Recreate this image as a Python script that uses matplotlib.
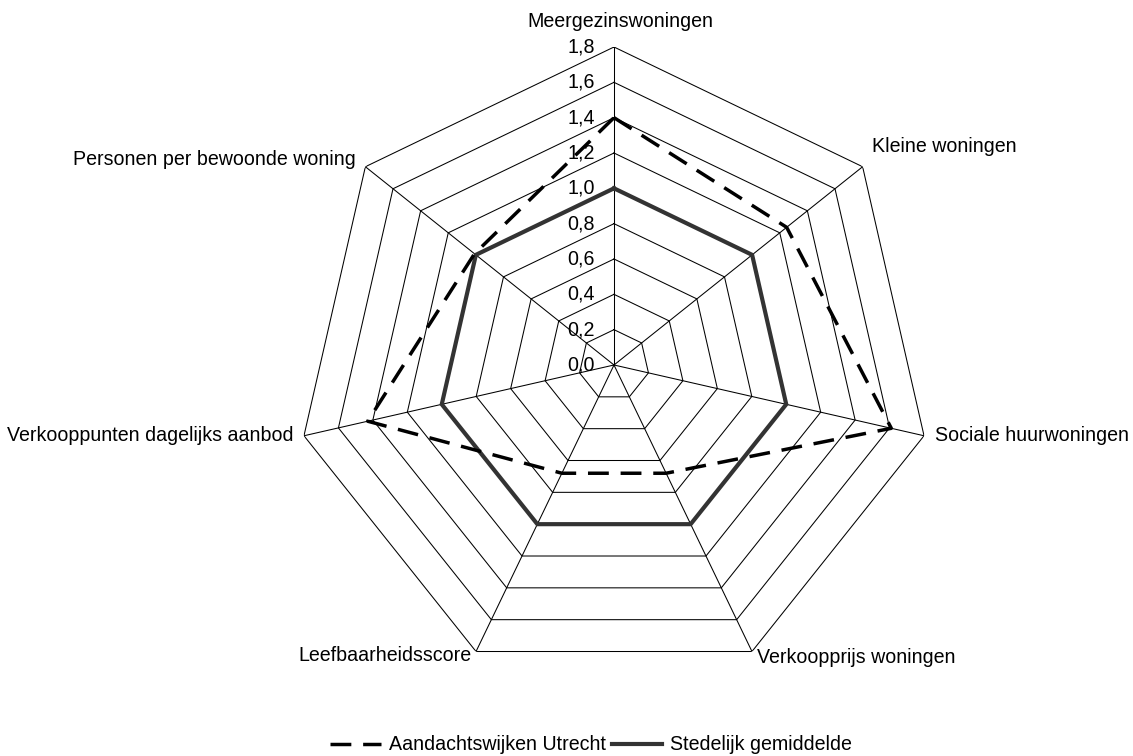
import numpy as np
import matplotlib
matplotlib.use("Agg")
import matplotlib.pyplot as plt
from matplotlib.lines import Line2D

plt.rcParams['font.family'] = ['Liberation Sans', 'DejaVu Sans']

categories = ["Meergezinswoningen", "Kleine woningen", "Sociale huurwoningen",
              "Verkoopprijs woningen", "Leefbaarheidsscore",
              "Verkooppunten dagelijks aanbod", "Personen per bewoonde woning"]
aandacht = [1.40, 1.25, 1.61, 0.68, 0.68, 1.43, 1.01]
stedelijk = [1.0, 1.0, 1.0, 1.0, 1.0, 1.0, 1.0]
ring_values = [0.2, 0.4, 0.6, 0.8, 1.0, 1.2, 1.4, 1.6, 1.8]
tick_values = [0.0, 0.2, 0.4, 0.6, 0.8, 1.0, 1.2, 1.4, 1.6, 1.8]
tick_labels = ["0,0", "0,2", "0,4", "0,6", "0,8", "1,0", "1,2", "1,4", "1,6", "1,8"]
series_names = ["Aandachtswijken Utrecht", "Stedelijk gemiddelde"]

FS = 14.1
W, H = 1133, 756
fig = plt.figure(figsize=(W / 100, H / 100), dpi=100)
cx, cy, R = 614, 365, 318
ax = fig.add_axes([(cx - R) / W, 1 - (cy + R) / H, 2 * R / W, 2 * R / H], projection='polar')
ax.set_theta_zero_location('N')
ax.set_theta_direction(-1)
ax.set_ylim(0, 1.8)
ax.grid(False)
ax.spines['polar'].set_visible(False)
ax.set_xticks([])
ax.set_yticks([])
ax.patch.set_visible(False)

n = len(categories)
theta = np.arange(n) * 2 * np.pi / n
theta_closed = np.append(theta, theta[0])

# heptagonal grid
for r in ring_values:
    ax.plot(theta_closed, [r] * (n + 1), color='black', lw=0.75, zorder=1)
for t in theta:
    ax.plot([t, t], [0, ring_values[-1]], color='black', lw=0.75, zorder=1)

# series
ax.plot(theta_closed, stedelijk + stedelijk[:1], color='#333333', lw=3.0,
        solid_joinstyle='miter', zorder=3)
ax.plot(theta_closed, aandacht + aandacht[:1], color='black', lw=2.5,
        linestyle=(0, (6, 3.4)), zorder=4)

# tick labels
for v, lab in zip(tick_values, tick_labels):
    ax.annotate(lab, xy=(0, v), xytext=(-13.7, 0), textcoords='offset points',
                ha='right', va='center', fontsize=FS, zorder=5)

# category labels
offsets = [(4.3, 18.7, 'center'), (6.5, 14.4, 'left'), (7.9, 0, 'left'),
           (3.6, -4.3, 'left'), (-3.6, -2.9, 'right'), (-7.9, 0, 'right'),
           (-7.2, 5, 'right')]
for t, lab, (dx, dy, ha) in zip(theta, categories, offsets):
    ax.annotate(lab, xy=(t, 1.8), xytext=(dx, dy), textcoords='offset points',
                ha=ha, va='center', fontsize=FS, annotation_clip=False)

handles = [Line2D([], [], color='black', lw=2.5, linestyle=(0, (6, 3.4))),
           Line2D([], [], color='#333333', lw=3.0)]
fig.legend(handles, series_names, loc='center', bbox_to_anchor=(591 / W, 1 - 745 / H),
           ncol=2, frameon=False, fontsize=FS, handlelength=2.6,
           handletextpad=0.4, columnspacing=0.3, borderpad=0)

fig.savefig("out.png", dpi=100)
